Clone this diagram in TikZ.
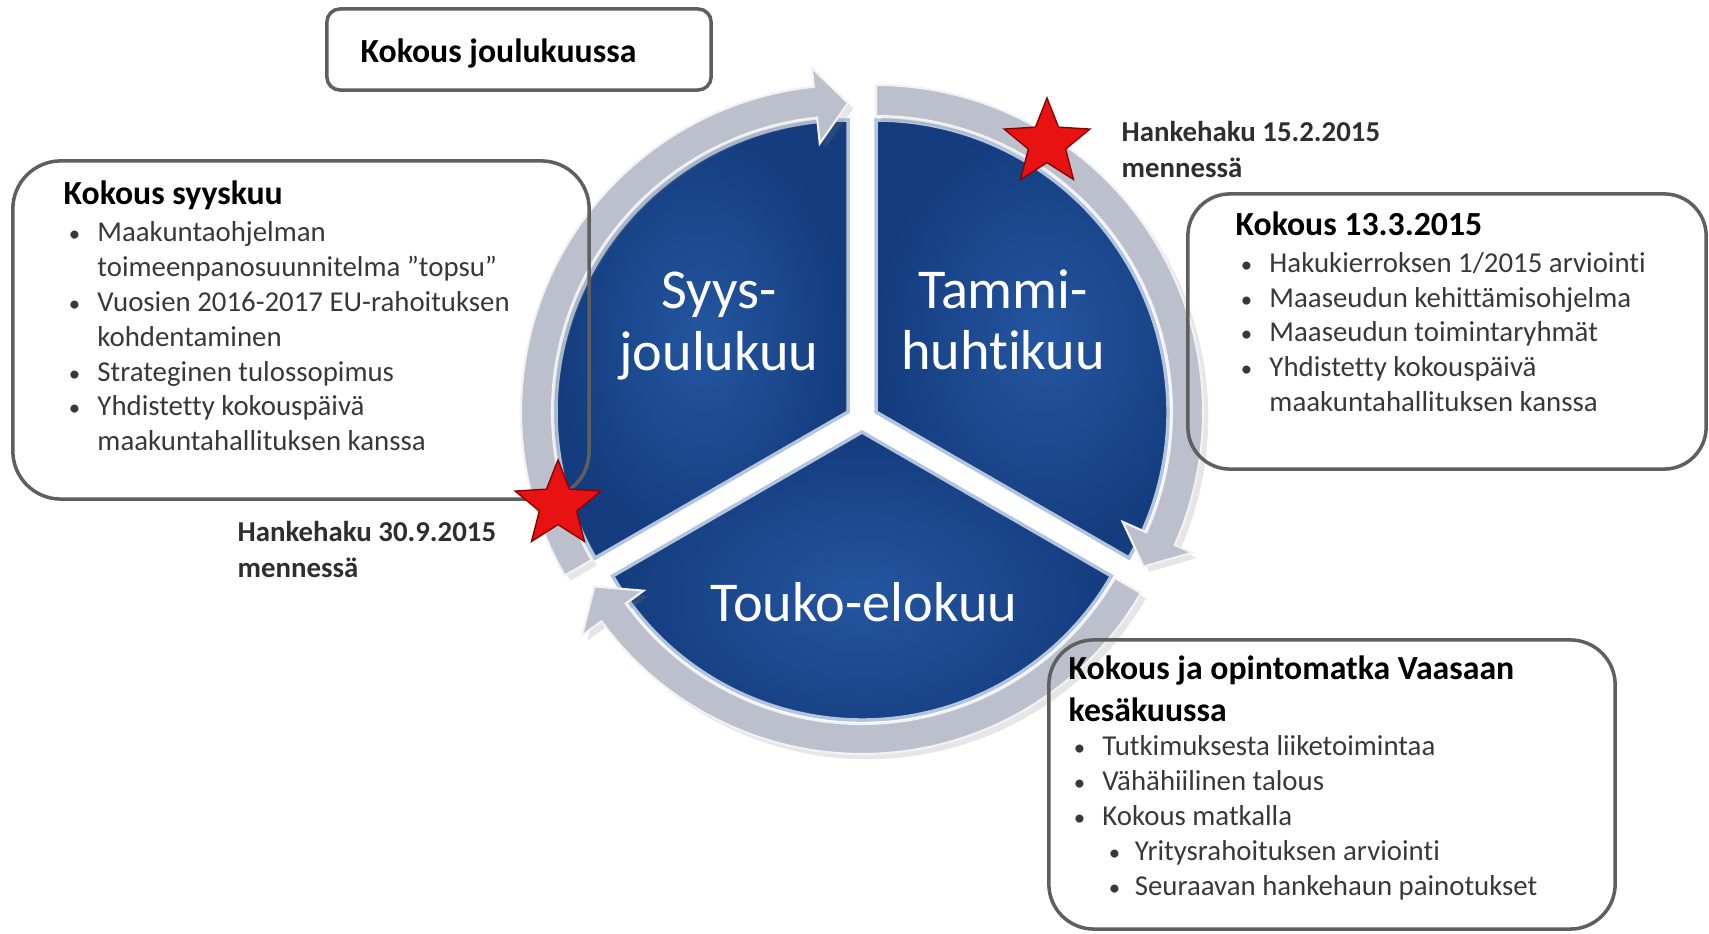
\documentclass[tikz,border=0pt]{standalone}
\usepackage{fontspec}
\setmainfont{Carlito}[Ligatures=NoCommon]
\usetikzlibrary{calc,shapes.geometric,shadows}

\definecolor{sectorin}{RGB}{36,86,160}
\definecolor{sectorout}{RGB}{20,60,126}
\definecolor{ringgray}{RGB}{188,192,204}
\definecolor{boxline}{RGB}{95,95,95}
\definecolor{starred}{RGB}{232,18,18}

\newcommand{\bul}{\hspace*{1.5pt}\makebox[8.1pt][l]{\fontsize{6.5}{6.5}\selectfont•}}
\newcommand{\subbul}{\hspace*{11.4pt}\makebox[7.4pt][l]{\fontsize{6.5}{6.5}\selectfont•}}
\newcommand{\ind}{\hspace*{9.6pt}}
\newcommand{\boxtitle}[1]{{\fontsize{9.6}{11.6}\selectfont\bfseries\color{black}#1}}

\tikzset{
  sector/.style={inner color=sectorin, outer color=sectorout, draw=white!65!sectorin, line width=1pt},
  ringarrow/.style={fill=ringgray, draw=white!80!ringgray, line width=0.6pt,
    drop shadow={opacity=0.2, shadow xshift=1.5pt, shadow yshift=-1.5pt}},
  box/.style={draw=boxline, line width=1pt, rectangle},
  boxtext/.style={align=left, anchor=west, inner sep=0pt, text=black!78, font=\fontsize{8.2}{9.9}\selectfont},
  monthtext/.style={align=center, text=white, inner sep=0pt, font=\fontsize{16}{17.4}\selectfont},
  deadline/.style={align=left, anchor=west, inner sep=0pt, text=black!82, font=\fontsize{8.2}{10.2}\selectfont\bfseries},
  redstar/.style={star, star points=5, star point ratio=2.3, minimum size=0.9cm, inner sep=0pt,
    fill=starred, draw=red!55!black, line width=0.4pt}
}

\begin{document}
\begin{tikzpicture}[x=0.01cm, y=0.01cm]
\useasboundingbox (0,0) rectangle (1709,933);

% centres of the three pie pieces
\coordinate (syysc) at (848,521);
\coordinate (tammic) at (876,521);
\coordinate (toukoc) at (862,501);

% pie pieces
\shadedraw[sector] (syysc) -- ++(90:292) arc[start angle=90, end angle=210, radius=292] -- cycle;
\shadedraw[sector] (tammic) -- ++(-30:292) arc[start angle=-30, end angle=90, radius=292] -- cycle;
\shadedraw[sector] (toukoc) -- ++(210:288) arc[start angle=210, end angle=330, radius=288] -- cycle;

% ring arrows
\foreach \c/\s/\e/\b/\ri/\ro in {syysc/210/90/96/296/327, tammic/90/-30/-24/296/327, toukoc/-30/-150/-144/292/322}{
  \path[ringarrow] ($(\c)+(\s:\ro)$) arc[start angle=\s, end angle=\b, radius=\ro]
    -- ($(\c)+(\b:346)$) -- ($(\c)+(\e:309)$) -- ($(\c)+(\b:270)$) -- ($(\c)+(\b:\ri)$)
    arc[start angle=\b, end angle=\s, radius=\ri] -- cycle;
}

% month labels
\node[monthtext] (syys) at (719,607) {Syys-\\joulukuu};
\node[monthtext] (tammi) at (1003,613) {Tammi-\\huhtikuu};
\node[monthtext] (touko) at (864,331) {Touko-elokuu};

% boxes
\node[box, rounded corners=0.13cm, minimum width=3.84cm, minimum height=0.81cm] (joulubox) at (519,883.5) {};
\node[box, rounded corners=0.48cm, minimum width=5.76cm, minimum height=3.38cm] (syyskuubox) at (301,603) {};
\node[box, rounded corners=0.42cm, minimum width=5.18cm, minimum height=2.75cm] (maaliskuubox) at (1447,601.5) {};
\node[box, rounded corners=0.45cm, minimum width=5.66cm, minimum height=2.89cm] (vaasabox) at (1332,148.5) {};

\node[boxtext] (joulutext) at (360,879.2) {\boxtitle{Kokous joulukuussa}};
\node[boxtext] (syyskuutext) at (63,617) {\boxtitle{Kokous syyskuu}\\[0.6pt]
  \bul Maakuntaohjelman\\
  \ind toimeenpanosuunnitelma ”topsu”\\
  \bul Vuosien 2016-2017 EU-rahoituksen\\
  \ind kohdentaminen\\
  \bul Strateginen tulossopimus\\
  \bul Yhdistetty kokouspäivä\\
  \ind maakuntahallituksen kanssa};
\node[boxtext] (maaliskuutext) at (1235,621.3) {\boxtitle{Kokous 13.3.2015}\\[0.6pt]
  \bul Hakukierroksen 1/2015 arviointi\\
  \bul Maaseudun kehittämisohjelma\\
  \bul Maaseudun toimintaryhmät\\
  \bul Yhdistetty kokouspäivä\\
  \ind maakuntahallituksen kanssa};
\node[boxtext] (vaasatext) at (1068,155) {\boxtitle{Kokous ja opintomatka Vaasaan}\\[1.8pt]
  \boxtitle{kesäkuussa}\\
  \bul Tutkimuksesta liiketoimintaa\\
  \bul Vähähiilinen talous\\
  \bul Kokous matkalla\\
  \subbul Yritysrahoituksen arviointi\\
  \subbul Seuraavan hankehaun painotukset};

% deadlines
\node[deadline] (haku1) at (1121,783.3) {Hankehaku 15.2.2015\\mennessä};
\node[deadline] (haku2) at (237,383.3) {Hankehaku 30.9.2015\\mennessä};
\node[redstar] (star1) at (1047,790) {};
\node[redstar] (star2) at (558,428) {};
\end{tikzpicture}
\end{document}
